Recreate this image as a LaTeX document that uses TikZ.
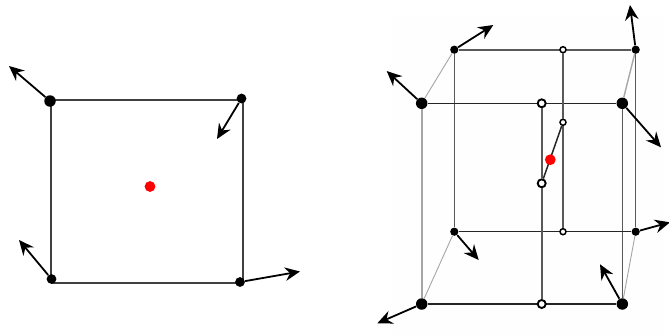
\documentclass[tikz,border=0pt]{standalone}
\usepackage{tikz}
\usetikzlibrary{arrows.meta}
\definecolor{myred}{HTML}{FF0000}
\definecolor{mypanel}{HTML}{FDFEFD}
\tikzset{
	dotnode/.style={
			shape=circle,
			draw=none,
			fill=black,
			minimum size=1.95mm,
			inner sep=0pt
		},
	bigdotnode/.style={
			dotnode,
			minimum size=2.3mm
		},
	smalldotnode/.style={
			dotnode,
			minimum size=1.65mm
		},
	opennode/.style={
			shape=circle,
			draw=black,
			line width=0.38mm,
			fill=white,
			minimum size=1.6mm,
			inner sep=0pt
		},
	smallopennode/.style={
			opennode,
			line width=0.3mm,
			minimum size=1.2mm
		},
	rednode/.style={
			shape=circle,
			fill=myred,
			minimum size=2.15mm,
			inner sep=0pt
		},
	darkedge/.style={line width=0.3mm, black!85},
	midedge/.style={line width=0.26mm, black!65},
	lightedge/.style={line width=0.18mm, black!35},
	squareedge/.style={line width=0.38mm, black!75},
	forceedge/.style={line width=0.36mm, black, -{Stealth[length=3mm,width=2.7mm,inset=1mm]}}
}
\begin{document}
\begin{tikzpicture}[x=0.2mm,y=-0.2mm]
  \useasboundingbox (0,0) rectangle (669,335);

  % left square
  \coordinate (sa) at (51,100);
  \coordinate (sb) at (243,100);
  \coordinate (sc) at (51,283);
  \coordinate (sd) at (243,283);
  \coordinate (f1) at (9,66);
  \coordinate (f2) at (217,139);
  \coordinate (f3) at (19,240);
  \coordinate (f4) at (300,271.5);

  \draw[squareedge] (sa) edge (sb);
  \draw[squareedge] (sa) edge (sc);
  \draw[squareedge] (sb) edge (sd);
  \draw[squareedge] (sc) edge (sd);

  \node[bigdotnode] (s1) at (50,101) {};
  \node[dotnode] (s2) at (241.5,98.5) {};
  \node[dotnode] (s3) at (51.5,279) {};
  \node[dotnode] (s4) at (240,282) {};
  \node[rednode] (s5) at (150,186.5) {};

  \draw[forceedge] (s1) -- (f1);
  \draw[forceedge] (s2) -- (f2);
  \draw[forceedge] (s3) -- (f3);
  \draw[forceedge] (s4) -- (f4);

  % right box
  \fill[mypanel] (393,17) rectangle (664,335);

  \node[bigdotnode] (c1) at (421.7,103.3) {};
  \node[bigdotnode] (c2) at (622.3,103.3) {};
  \node[bigdotnode] (c3) at (421.7,304) {};
  \node[bigdotnode] (c4) at (622.3,304) {};
  \node[smalldotnode] (c5) at (454.3,49.7) {};
  \node[smalldotnode] (c6) at (635.7,49.7) {};
  \node[smalldotnode] (c7) at (454.3,231.7) {};
  \node[smalldotnode] (c8) at (635.7,231.7) {};

  \coordinate (g1) at (386.7,71);
  \coordinate (g2) at (661,147.3);
  \coordinate (g3) at (377.3,323.3);
  \coordinate (g4) at (600,264.3);
  \coordinate (g5) at (493.3,25);
  \coordinate (g6) at (630,5);
  \coordinate (g7) at (478.7,260);
  \coordinate (g8) at (670,222.3);

  \draw[lightedge, line width=0.36mm] (c1) edge (c3);
  \draw[midedge] (c2) edge (c4);
  \draw[midedge] (c5) edge (c7);
  \draw[midedge] (c6) edge (c8);
  \draw[lightedge] (c1) edge (c5);
  \draw[lightedge, line width=0.28mm] (c2) edge (c6);
  \draw[lightedge] (c3) edge (c7);
  \draw[lightedge] (c4) edge (c8);

  \draw[darkedge] (c1) edge (c2);
  \draw[darkedge] (c3) edge (c4);
  \draw[midedge, line width=0.32mm] (c5) edge (c6);
  \draw[darkedge] (c7) edge (c8);

  \node[opennode] (m1) at (541.7,103.3) {};
  \node[opennode] (m2) at (541.7,304) {};
  \node[smallopennode] (m3) at (563,49.7) {};
  \node[smallopennode] (m4) at (563,231.7) {};
  \node[opennode] (m5) at (541.7,183.3) {};
  \node[smallopennode] (m6) at (563,122.3) {};

  \draw[midedge, line width=0.32mm] (m1) edge (m5);
  \draw[midedge, line width=0.32mm] (m5) edge (m2);
  \draw[midedge, line width=0.32mm] (m3) edge (m6);
  \draw[midedge, line width=0.32mm] (m6) edge (m4);
  \draw[darkedge] (m5) edge (m6);

  \node[rednode] (c9) at (550.3,159.7) {};

  \draw[forceedge] (c1) -- (g1);
  \draw[forceedge] (c2) -- (g2);
  \draw[forceedge] (c3) -- (g3);
  \draw[forceedge] (c4) -- (g4);
  \draw[forceedge] (c5) -- (g5);
  \draw[forceedge] (c6) -- (g6);
  \draw[forceedge] (c7) -- (g7);
  \draw[forceedge] (c8) -- (g8);
\end{tikzpicture}
\end{document}
